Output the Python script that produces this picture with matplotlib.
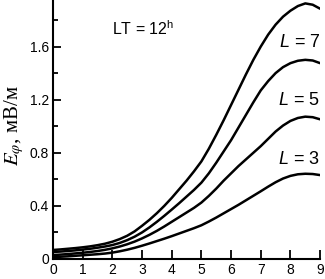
import matplotlib
matplotlib.use("Agg")
import matplotlib.pyplot as plt
from matplotlib.ticker import MultipleLocator

plt.rcParams['font.family'] = ['Liberation Sans', 'DejaVu Sans']
plt.rcParams['mathtext.fontset'] = 'custom'
plt.rcParams['mathtext.it'] = 'Liberation Sans:italic'
plt.rcParams['mathtext.rm'] = 'Liberation Sans'

x = [0, 0.25, 0.5, 0.75, 1, 1.25, 1.5, 1.75, 2, 2.25, 2.5, 2.75, 3, 3.25, 3.5, 3.75,
     4, 4.25, 4.5, 4.75, 5, 5.25, 5.5, 5.75, 6, 6.25, 6.5, 6.75, 7, 7.25, 7.5, 7.75,
     8, 8.25, 8.5, 8.75, 9]
e_L9 = [0.068, 0.072, 0.077, 0.082, 0.088, 0.095, 0.104, 0.115, 0.130, 0.150, 0.175,
        0.208, 0.250, 0.295, 0.345, 0.400, 0.460, 0.525, 0.590, 0.660, 0.735, 0.830,
        0.935, 1.045, 1.160, 1.275, 1.390, 1.500, 1.600, 1.690, 1.765, 1.825, 1.870,
        1.905, 1.925, 1.915, 1.885]
e_L7 = [0.053, 0.056, 0.060, 0.065, 0.071, 0.077, 0.085, 0.094, 0.105, 0.121, 0.142,
        0.168, 0.200, 0.238, 0.280, 0.325, 0.372, 0.420, 0.470, 0.520, 0.575, 0.645,
        0.725, 0.810, 0.895, 0.990, 1.085, 1.180, 1.270, 1.340, 1.400, 1.445, 1.475,
        1.493, 1.500, 1.495, 1.475]
e_L5 = [0.030, 0.033, 0.037, 0.042, 0.047, 0.053, 0.060, 0.069, 0.080, 0.094, 0.111,
        0.131, 0.155, 0.182, 0.212, 0.245, 0.280, 0.315, 0.350, 0.385, 0.425, 0.475,
        0.530, 0.590, 0.645, 0.700, 0.750, 0.800, 0.850, 0.905, 0.960, 1.005, 1.040,
        1.062, 1.072, 1.068, 1.052]
e_L3 = [0.015, 0.017, 0.020, 0.024, 0.028, 0.032, 0.036, 0.041, 0.048, 0.058, 0.070,
        0.084, 0.100, 0.117, 0.135, 0.153, 0.172, 0.192, 0.212, 0.232, 0.254, 0.282,
        0.312, 0.344, 0.376, 0.408, 0.442, 0.476, 0.510, 0.545, 0.578, 0.606, 0.626,
        0.638, 0.642, 0.640, 0.632]
labels = ["7", "5", "3"]
label_y = [1.63, 1.19, 0.75]
x_ticks = [0, 1, 2, 3, 4, 5, 6, 7, 8, 9]
y_ticks = [0, 0.4, 0.8, 1.2, 1.6]
y_tick_labels = ["0", "0.4", "0.8", "1.2", "1.6"]

fig = plt.figure(figsize=(3.25, 2.79), dpi=100)
ax = fig.add_axes([0.163, 0.0717, 0.822, 0.928])

for s in (e_L9, e_L7, e_L5, e_L3):
    ax.plot(x, s, color='black', lw=1.8, solid_capstyle='round', solid_joinstyle='round')

ax.set_xlim(0, 9)
ax.set_ylim(0, 1.95)
ax.spines['top'].set_visible(False)
ax.spines['right'].set_visible(False)
for sp in ('left', 'bottom'):
    ax.spines[sp].set_linewidth(1.5)

ax.set_xticks(x_ticks)
ax.set_xticklabels([str(t) for t in x_ticks])
ax.set_yticks(y_ticks)
ax.set_yticklabels(y_tick_labels)
ax.yaxis.set_minor_locator(MultipleLocator(0.2))
ax.tick_params(axis='x', direction='in', length=6.5, width=1.3, labelsize=10, pad=3)
ax.tick_params(axis='y', which='major', direction='in', length=6, width=1.3, labelsize=10, pad=3)
ax.tick_params(axis='y', which='minor', direction='in', length=3.5, width=1.3)

for lab, ly in zip(labels, label_y):
    ax.text(9.0, ly, r"$L$ = " + lab, ha='right', va='center',
            fontsize=13, math_fontfamily='custom')

ax.text(2.0, 1.735, r"LT = 12$^\mathregular{h}$", ha='left', va='center', fontsize=11.5)

ax.set_ylabel(r"$E_{\varphi}$, мВ/м", family=['Liberation Serif', 'DejaVu Serif'],
              fontsize=15, math_fontfamily='stix')
ax.yaxis.set_label_coords(-0.1, 0.515)

fig.savefig("out.png", dpi=100)
